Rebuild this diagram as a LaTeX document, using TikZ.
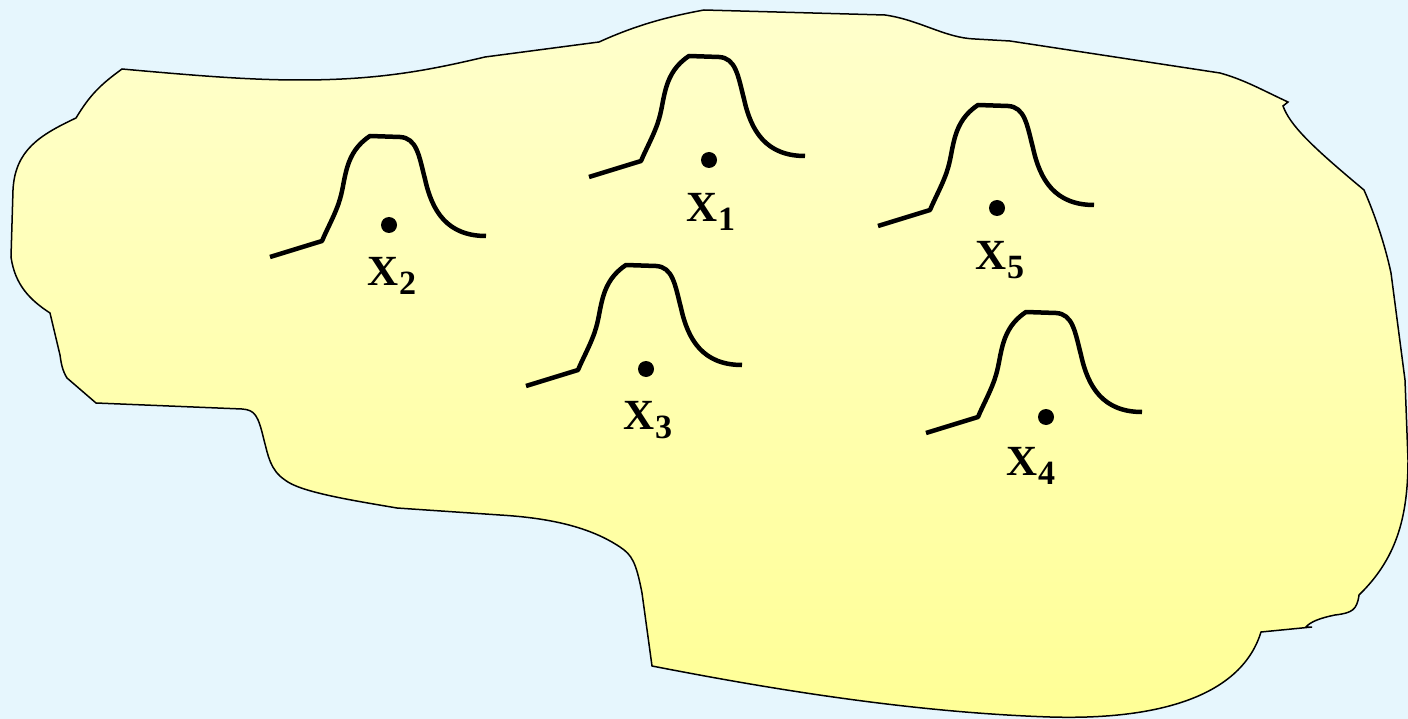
\documentclass[tikz,border=0pt]{standalone}
\usepackage{fontspec}
\setmainfont{Liberation Serif}
\begin{document}
\begin{tikzpicture}[x=1pt,y=-1pt,
  bumpline/.style={line width=4.5pt,line join=round},
  dotnode/.style={circle,fill=black,inner sep=0pt,minimum size=16pt},
  lbl/.style={inner sep=0pt,font=\bfseries\fontsize{43}{43}\selectfont},
  pics/bump/.style={code={
    \draw[bumpline] (-52,16) -- (0,0) .. controls (5,-12) and (14,-28) .. (18,-42)
      .. controls (24,-62) and (22,-88) .. (48,-105) -- (78,-104)
      .. controls (95,-103) and (97,-85) .. (103,-62)
      .. controls (110,-30) and (125,-5) .. (164,-5);
  }}]
\definecolor{bgblue}{HTML}{E6F6FD}
\definecolor{ytop}{HTML}{FFFFCC}
\definecolor{ybot}{HTML}{FFFF96}
\fill[bgblue] (0,0) rectangle (1408,719);
\useasboundingbox (0,0) rectangle (1408,719);
% blob
\path[draw=black,line width=1.5pt,top color=ytop,bottom color=ybot]
 (122,69) .. controls (200,76) and (250,80) .. (300,80)
 .. controls (380,80) and (430,70) .. (485,57)
 -- (599,42)
 .. controls (630,28) and (660,18) .. (704,10)
 -- (885,15)
 .. controls (920,20) and (945,38) .. (975,39)
 -- (1010,41) -- (1220,73)
 .. controls (1245,80) and (1262,90) .. (1288,102)
 -- (1283,106)
 .. controls (1290,125) and (1310,145) .. (1364,190)
 .. controls (1375,215) and (1385,245) .. (1391,273)
 -- (1405,380) -- (1408,460)
 .. controls (1408,520) and (1395,560) .. (1359,595)
 .. controls (1357,610) and (1352,613) .. (1335,615)
 .. controls (1320,618) and (1310,622) .. (1306,627)
 -- (1312,627) -- (1261,632)
 .. controls (1240,700) and (1150,720) .. (1050,717)
 .. controls (900,712) and (750,685) .. (652,666)
 -- (642,593)
 .. controls (636,562) and (632,555) .. (620,547)
 .. controls (590,527) and (550,518) .. (500,515)
 -- (397,508)
 .. controls (350,500) and (300,492) .. (285,480)
 .. controls (270,470) and (268,455) .. (264,440)
 .. controls (258,415) and (255,410) .. (242,409)
 -- (96,403) -- (67,378)
 .. controls (62,370) and (61,362) .. (60,355)
 -- (50,313)
 .. controls (30,300) and (15,285) .. (11,257)
 -- (13,190)
 .. controls (15,150) and (40,135) .. (76,118)
 .. controls (90,95) and (100,85) .. (122,69) -- cycle;
% bumps
\pic at (641,161) {bump};
\pic at (322,241) {bump};
\pic at (930,210) {bump};
\pic at (578,370) {bump};
\pic at (978,417) {bump};
% dots
\node[dotnode] (d1) at (709,160) {};
\node[dotnode] (d2) at (389,225) {};
\node[dotnode] (d3) at (646,369) {};
\node[dotnode] (d4) at (1046,417) {};
\node[dotnode] (d5) at (997,208) {};
% labels
\newcommand{\sublbl}[1]{X\raisebox{-9pt}{\fontsize{34}{34}\selectfont #1}}
\node[lbl] (l1) at (711,212) {\sublbl{1}};
\node[lbl] (l2) at (392,276) {\sublbl{2}};
\node[lbl] (l3) at (648,420) {\sublbl{3}};
\node[lbl] (l4) at (1031,466) {\sublbl{4}};
\node[lbl] (l5) at (1000,260) {\sublbl{5}};
\end{tikzpicture}
\end{document}
